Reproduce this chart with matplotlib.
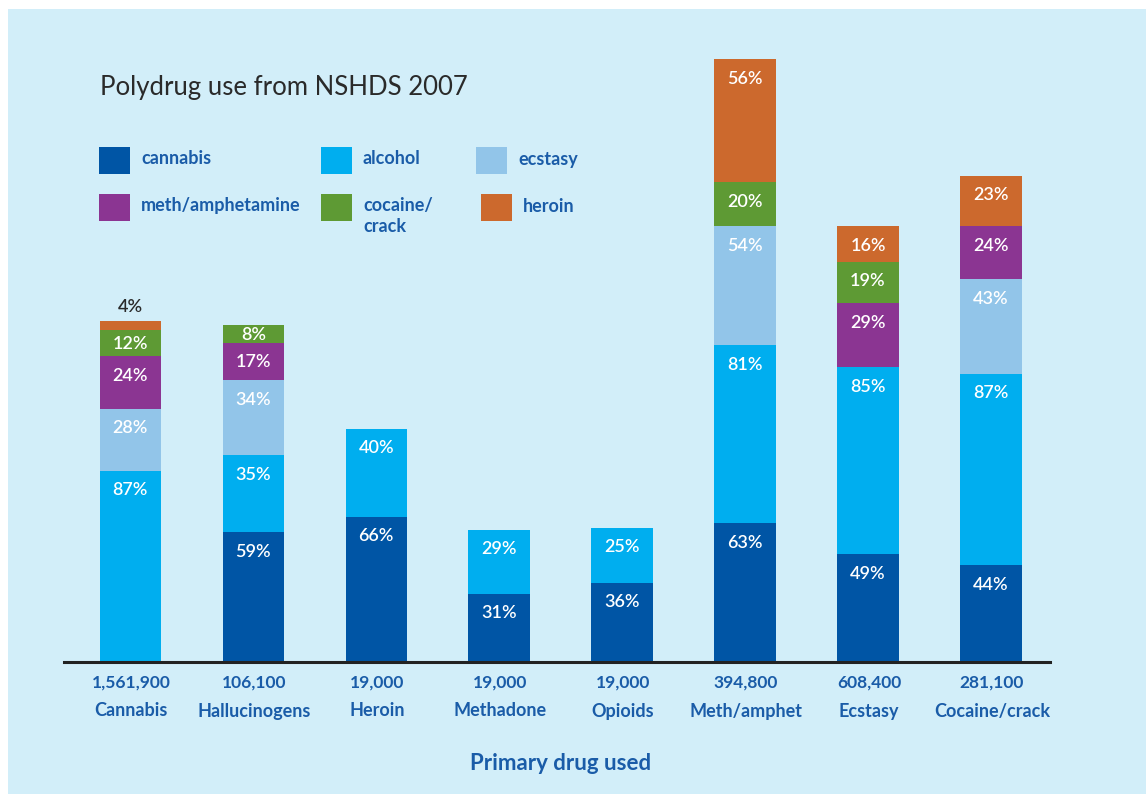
"""Polydrug use from NSHDS 2007 — stacked percentage bars."""

import matplotlib

matplotlib.use("Agg")
import matplotlib.pyplot as plt
from matplotlib.patches import Rectangle

plt.rcParams["font.family"] = ["Lato", "DejaVu Sans"]

# ---- data -------------------------------------------------------------
PRIMARY = ["Cannabis", "Hallucinogens", "Heroin", "Methadone", "Opioids",
           "Meth/amphet", "Ecstasy", "Cocaine/crack"]
USERS = ["1,561,900", "106,100", "19,000", "19,000", "19,000",
         "394,800", "608,400", "281,100"]

SERIES = ["cannabis", "alcohol", "ecstasy", "meth/amphetamine", "cocaine/\ncrack", "heroin"]
cannabis = [0, 59, 66, 31, 36, 63, 49, 44]
alcohol = [87, 35, 40, 29, 25, 81, 85, 87]
ecstasy = [28, 34, 0, 0, 0, 54, 0, 43]
meth = [24, 17, 0, 0, 0, 0, 29, 24]
cocaine = [12, 8, 0, 0, 0, 20, 19, 0]
heroin = [4, 0, 0, 0, 0, 56, 16, 23]
VALUES = [cannabis, alcohol, ecstasy, meth, cocaine, heroin]

COLORS = ["#0055a5", "#00aeef", "#92c5e9", "#8b3592", "#5e9a34", "#cc692d"]
BG = "#d2eef9"
BLUE_TXT = "#1a5ca8"

W, H = 1146, 794


def fx(px):
    return px / W


def fy(py):
    return 1 - py / H


fig = plt.figure(figsize=(W / 100, H / 100), dpi=100)
fig.patch.set_facecolor("white")
fig.add_artist(Rectangle((fx(8), 0), 1 - fx(8), fy(9), transform=fig.transFigure,
                         facecolor=BG, edgecolor="none", zorder=0))

# axes: baseline at y=662 px, ~2.2 px per percentage point
ax = fig.add_axes([fx(64), fy(662), fx(1050) - fx(64), (662 - 20) / H])
ax.set_facecolor("none")
ax.set_xlim(-0.54, 7.48)
ax.set_ylim(0, (662 - 20) / 2.2)
for side in ("top", "right", "left"):
    ax.spines[side].set_visible(False)
ax.spines["bottom"].set_color("#222222")
ax.spines["bottom"].set_linewidth(2.2)
ax.set_xticks([])
ax.set_yticks([])

x = range(len(PRIMARY))
bottom = [0] * len(PRIMARY)
for vals, color in zip(VALUES, COLORS):
    ax.bar(x, vals, width=0.5, bottom=bottom, color=color, linewidth=0, zorder=2)
    for i, v in enumerate(vals):
        if v == 0:
            continue
        top = bottom[i] + v
        if v < 6:
            ax.text(i, top + 2.5, f"{v}%", ha="center", va="bottom", fontsize=13,
                    color="#2a2a2a", fontweight="semibold")
        else:
            ax.text(i, top - min(8.8, v * 0.55), f"{v}%", ha="center", va="center",
                    fontsize=13, color="white", fontweight="semibold", zorder=3)
    bottom = [b + v for b, v in zip(bottom, vals)]

# category labels below the axis
for i, (n, name) in enumerate(zip(USERS, PRIMARY)):
    xf = fx(131 + 123.0 * i)
    fig.text(xf, fy(683), n, ha="center", va="center", fontsize=12.5,
             color=BLUE_TXT, fontweight="bold")
    fig.text(xf, fy(711), name, ha="center", va="center", fontsize=13,
             color=BLUE_TXT, fontweight="bold")

fig.text(fx(561), fy(763), "Primary drug used", ha="center", va="center",
         fontsize=16, color=BLUE_TXT, fontweight="bold")

# title
fig.text(fx(100), fy(87), "Polydrug use from NSHDS 2007", ha="left", va="center",
         fontsize=18.5, color="#2a2a2a")

# legend (manual, two rows of three)
leg_pos = [(99, 160), (321, 160), (476, 160), (99, 207), (321, 207), (481, 207)]
for (lx, ly), label, color in zip(leg_pos, SERIES, COLORS):
    fig.add_artist(Rectangle((fx(lx), fy(ly + 13.5)), fx(31), 27 / H,
                             transform=fig.transFigure, facecolor=color,
                             edgecolor="none"))
    fig.text(fx(lx + 42), fy(ly - 1) if "\n" not in label else fy(ly - 10), label,
             ha="left", va="top" if "\n" in label else "center",
             fontsize=13, color=BLUE_TXT, fontweight="bold", linespacing=1.3)

fig.savefig("out.png", dpi=100)
